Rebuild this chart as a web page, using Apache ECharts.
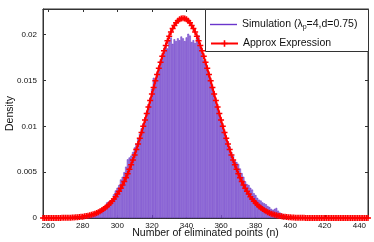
<!DOCTYPE html>
<html>
<head>
<meta charset="utf-8">
<script src="https://cdn.jsdelivr.net/npm/echarts@6/dist/echarts.min.js"></script>
<style>html,body{margin:0;padding:0;background:#fff}#c{width:374px;height:242px}</style>
</head>
<body>
<div id="c"></div>
<script>
// Histogram (simulation) bins: first bin value and densities per integer n
const histStart = 282;
const histValues = [
 0.0001,0.0002,0.0002,0.0003,0.0003,0.0004,0.0005,0.0006,0.0008,0.0011,
 0.0010,0.0013,0.0017,0.0018,0.0019,0.0020,0.0026,0.0030,0.0033,0.0036,
 0.0042,0.0045,0.0050,0.0056,0.0064,0.0066,0.0068,0.0072,0.0077,0.0081,
 0.0087,0.0092,0.0098,0.0103,0.0109,0.0116,0.0124,0.0131,0.0141,0.0153,
 0.0150,0.0158,0.0166,0.0172,0.0178,0.0183,0.0188,0.0185,0.0193,0.0197,
 0.0190,0.0195,0.0193,0.0196,0.0194,0.0198,0.0196,0.0193,0.0197,0.0201,
 0.0199,0.0192,0.0194,0.0191,0.0197,0.0199,0.0186,0.0180,0.0172,0.0169,
 0.0162,0.0158,0.0150,0.0143,0.0136,0.0128,0.0121,0.0113,0.0107,0.0101,
 0.0094,0.0088,0.0083,0.0078,0.0072,0.0068,0.0063,0.0061,0.0059,0.0054,
 0.0049,0.0045,0.0040,0.0037,0.0036,0.0033,0.0031,0.0027,0.0025,0.0022,
 0.0020,0.0019,0.0017,0.0016,0.0015,0.0013,0.0012,0.0010,0.0009,0.0010,
 0.0011,0.0008,0.0006,0.0005,0.0004,0.0003,0.0002,0.0001
];
// Approx expression curve: first n and values per integer n
const curveStart = 257;
const curveValues = [
 0,0,0,0,0,0,0,0,0,0,0,
 0.00002,0.00002,0.00003,0.00003,0.00004,0.00004,0.00005,0.00006,0.00008,0.00009,
 0.00011,0.00013,0.00015,0.00018,0.00022,0.00025,0.00030,0.00035,0.00041,0.00047,
 0.00055,0.00064,0.00074,0.00085,0.00097,0.00111,0.00126,0.00144,0.00163,0.00184,
 0.00207,0.00233,0.00261,0.00291,0.00324,0.00360,0.00398,0.00440,0.00484,0.00531,
 0.00580,0.00633,0.00688,0.00746,0.00807,0.00870,0.00934,0.01001,0.01070,0.01140,
 0.01211,0.01282,0.01354,0.01425,0.01496,0.01566,0.01634,0.01700,0.01764,0.01825,
 0.01882,0.01935,0.01984,0.02028,0.02068,0.02101,0.02129,0.02151,0.02167,0.02177,
 0.02180,
 0.02177,0.02167,0.02151,0.02129,0.02101,0.02068,0.02028,0.01984,0.01935,0.01882,
 0.01825,0.01764,0.01700,0.01634,0.01566,0.01496,0.01425,0.01354,0.01282,0.01211,
 0.01140,0.01070,0.01001,0.00934,0.00870,0.00807,0.00746,0.00688,0.00633,0.00580,
 0.00531,0.00484,0.00440,0.00398,0.00360,0.00324,0.00291,0.00261,0.00233,0.00207,
 0.00184,0.00163,0.00144,0.00126,0.00111,0.00097,0.00085,0.00074,0.00064,0.00055,
 0.00047,0.00041,0.00035,0.00030,0.00025,0.00022,0.00018,0.00015,0.00013,0.00011,
 0.00009,0.00008,0.00006,0.00005,0.00004,0.00004,0.00003,0.00003,0.00002,0.00002,
 0,0,0,0,0,0,0,0,0,0,0,0,0,0,0,0,0,0,0,0,0,0,0,0,0,0,0,0,0,0,0,0,0,0,0,0,0
];
const xMin = 257, xMax = 445;
const yMin = 0, yMax = 0.0228, yStep = 0.005;
const simName = 'Simulation (λp=4,d=0.75)';
const approxName = 'Approx Expression';
const xTitle = 'Number of eliminated points (n)';
const yTitle = 'Density';

const histData = histValues.map((v, i) => [histStart + i, v]);
const curveData = curveValues.map((v, i) => [curveStart + i, v]);

const FONT = 'Liberation Sans';
const axisCol = '#333';
const legendText = {fontFamily: FONT, fontSize: 10.5, color: '#111',
  rich: {a: {fontFamily: FONT, fontSize: 10.5, color: '#111'},
         s: {fontFamily: FONT, fontSize: 7, color: '#111', padding: [6, 0, 0, 0]}}};
const chart = echarts.init(document.getElementById('c'), null, {renderer: 'canvas'});
chart.setOption({
  animation: false,
  backgroundColor: '#fff',
  grid: {left: 43, right: 6, top: 9, bottom: 24, containLabel: false, outerBoundsMode: 'none',
         show: true, borderColor: axisCol, borderWidth: 1, backgroundColor: 'transparent'},
  xAxis: [{
    type: 'value', min: xMin, max: xMax, splitNumber: 9,
    name: xTitle, nameLocation: 'middle', nameGap: 10, nameMoveOverlap: false,
    nameTextStyle: {fontFamily: FONT, fontSize: 10.5, color: '#111'},
    axisLine: {show: true, onZero: false, lineStyle: {color: axisCol, width: 1}},
    axisTick: {show: true, inside: true, length: 3, lineStyle: {color: axisCol}},
    axisLabel: {fontFamily: FONT, fontSize: 8, color: '#111', margin: 4, showMinLabel: false, showMaxLabel: false,
      formatter: v => (v % 20 === 0 ? String(v) : '')},
    splitLine: {show: false}
  }, {
    type: 'value', position: 'top', min: xMin, max: xMax, splitNumber: 9,
    axisLine: {show: true, onZero: false, lineStyle: {color: axisCol, width: 1}},
    axisTick: {show: true, inside: true, length: 3, lineStyle: {color: axisCol}},
    axisLabel: {show: false}, splitLine: {show: false}
  }],
  yAxis: [{
    type: 'value', min: yMin, max: yMax, interval: yStep,
    name: yTitle, nameLocation: 'middle', nameGap: 27, nameMoveOverlap: false,
    nameTextStyle: {fontFamily: FONT, fontSize: 10.5, color: '#111'},
    axisLine: {show: true, onZero: false, lineStyle: {color: axisCol, width: 1}},
    axisTick: {show: true, inside: true, length: 3, lineStyle: {color: axisCol}},
    axisLabel: {fontFamily: FONT, fontSize: 8, color: '#111', margin: 6, showMaxLabel: false,
      formatter: v => (v > 0.021 ? '' : String(+v.toFixed(3)))},
    splitLine: {show: false}
  }, {
    type: 'value', position: 'right', min: yMin, max: yMax, interval: yStep,
    axisLine: {show: true, onZero: false, lineStyle: {color: axisCol, width: 1}},
    axisTick: {show: true, inside: true, length: 3, lineStyle: {color: axisCol}},
    axisLabel: {show: false}, splitLine: {show: false}
  }],
  legend: [{
    orient: 'vertical', left: 205, top: 14, z: 20,
    itemWidth: 27, itemHeight: 1.4, itemGap: 8,
    data: [{name: simName, icon: 'rect', itemStyle: {color: '#6a35cc', borderWidth: 0}}],
    formatter: () => '{a|Simulation (λ}{s|p}{a|=4,d=0.75)}',
    textStyle: legendText
  }, {
    orient: 'vertical', left: 205, top: 33, z: 20,
    itemWidth: 27, itemHeight: 8, itemGap: 8,
    data: [{name: approxName}],
    formatter: n => '{a|' + n + '}',
    textStyle: legendText
  }],
  graphic: [{
    type: 'rect', z: 15, left: 205, top: 9,
    shape: {width: 163, height: 42},
    style: {fill: '#fff', stroke: '#333', lineWidth: 1}
  }],
  series: [{
    name: simName, type: 'bar', xAxisIndex: 0, yAxisIndex: 0,
    data: histData, barWidth: '100%', barGap: '0%',
    itemStyle: {color: '#a281e0', borderColor: '#5f2cc0', borderWidth: 0.5},
    z: 2
  }, {
    name: approxName, type: 'line', xAxisIndex: 0, yAxisIndex: 0,
    data: curveData,
    symbol: 'path://M-1,-4H1V-1H4V1H1V4H-1V1H-4V-1H-1Z', symbolSize: 6, showSymbol: true,
    lineStyle: {color: '#ff0000', width: 2},
    itemStyle: {color: '#ff0000'},
    z: 3
  }]
});
</script>
</body>
</html>
